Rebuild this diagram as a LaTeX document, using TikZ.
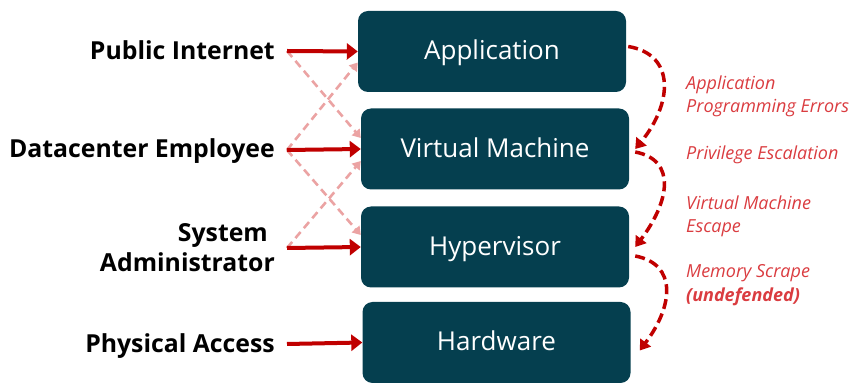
\documentclass[tikz,border=0pt]{standalone}
\usepackage{fontspec}
\setmainfont{Open Sans}
\usetikzlibrary{arrows.meta}
\definecolor{layerfill}{HTML}{053F4F}
\definecolor{attackred}{HTML}{C00000}
\definecolor{softred}{HTML}{EBA3A3}
\definecolor{threattext}{HTML}{DA3C40}
\tikzset{
  layer/.style={draw=none, fill=layerfill, rounded corners=10pt, minimum width=268pt,
    minimum height=81pt, text=white, text height=18.5pt, text depth=1.5pt,
    font=\fontsize{26}{30}\selectfont},
  actor/.style={anchor=base east, align=right, inner sep=0pt,
    font=\bfseries\fontsize{24.8}{30}\selectfont},
  threat/.style={anchor=base west, align=left, text=threattext, inner sep=0pt,
    font=\itshape\fontsize{18}{23}\selectfont},
  direct/.style={draw=attackred, line width=4pt, -{Triangle[length=11pt,width=16pt]}},
  cross/.style={draw=softred, line width=2.6pt, dash pattern=on 8pt off 5pt,
    -{Triangle[length=8pt,width=10pt]}},
  escalate/.style={draw=attackred, line width=3.5pt, dash pattern=on 10pt off 5pt,
    -{Triangle[length=10pt,width=13pt]}},
}
\begin{document}
\begin{tikzpicture}[x=1pt,y=1pt]
\useasboundingbox (0,0) rectangle (852,383);

% protection layers
\node[layer] (app) at (492,331.5) {Application};
\node[layer] (vm)  at (495,234) {Virtual Machine};
\node[layer] (hyp) at (495,136) {Hypervisor};
\node[layer] (hw)  at (496.5,40.5) {Hardware};

% actors
\node[actor] (pub)  at (275,323) {Public Internet};
\node[actor] (dce)  at (275,225) {Datacenter Employee};
\node[actor] (sys)  at (275,111) {System\hspace*{7pt}\\Administrator};
\node[actor] (phys) at (275,30) {Physical Access};

\coordinate (pubS)  at (287,332);
\coordinate (dceS)  at (287,233);
\coordinate (sysS)  at (287,135);
\coordinate (physS) at (287,39);

% indirect paths
\draw[cross] (pubS) -- ([yshift=11pt]vm.west);
\draw[cross] (dceS) -- ([yshift=-11pt]app.west);
\draw[cross] (dceS) -- ([yshift=12pt]hyp.west);
\draw[cross] (sysS) -- ([yshift=-12pt]vm.west);

% direct paths
\draw[direct] (pubS) -- (app.west);
\draw[direct] (dceS) -- (vm.west);
\draw[direct] (sysS) -- (hyp.west);
\draw[direct] (physS) -- (hw.west);

% escalation between layers
\draw[escalate] ([xshift=2pt,yshift=5pt]app.east) .. controls +(48,-8) and +(37,45) .. ([xshift=6pt]vm.east);
\draw[escalate] ([xshift=6pt,yshift=-3pt]vm.east) .. controls +(42,-8) and +(34,45) .. ([xshift=6pt]hyp.east);
\draw[escalate] ([xshift=6pt,yshift=-9pt]hyp.east) .. controls +(42,-8) and +(34,45) .. ([xshift=9pt,yshift=-8pt]hw.east);

% threat labels
\node[threat] (t1) at (686,293) {Application};
\node[threat] (t1b) at (686,270) {Programming Errors};
\node[threat] (t2) at (686,223) {Privilege Escalation};
\node[threat] (t3) at (686,173) {Virtual Machine};
\node[threat] (t3b) at (686,150) {Escape};
\node[threat] (t4) at (686,105) {Memory Scrape};
\node[threat] (t4b) at (686,81) {\textbf{(undefended)}};
\end{tikzpicture}
\end{document}
